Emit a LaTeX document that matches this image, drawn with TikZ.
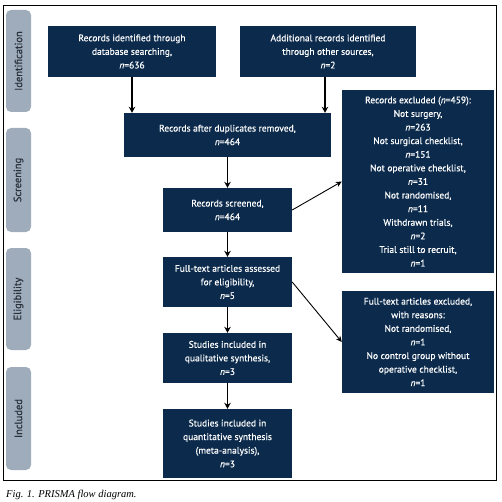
\documentclass[tikz,border=0pt]{standalone}
\usepackage{fontspec}
\setmainfont{PT Sans}
\newfontfamily\boxfont{PT Sans}[FakeBold=0.5]
\newfontfamily\capfont{Liberation Serif}
\usetikzlibrary{arrows.meta}
\definecolor{navy}{RGB}{12,42,76}
\definecolor{lblgray}{RGB}{158,172,187}
\definecolor{lbltext}{RGB}{40,48,58}
\tikzset{
  box/.style={fill=navy, text=white, align=center, inner sep=2pt,
    font=\boxfont\fontsize{9.5}{13.6}\selectfont, anchor=center},
  lbl/.style={fill=lblgray, rounded corners=5pt, minimum width=25pt,
    text=lbltext, font=\boxfont\fontsize{10.5}{12}\selectfont, anchor=center},
  arr/.style={line width=1.2pt, -{Stealth[length=6pt,width=6.5pt]}},
  darr/.style={line width=0.9pt, -{Stealth[length=6pt,width=5.5pt]}}
}
\begin{document}
\begin{tikzpicture}[x=1pt,y=-1pt]
\useasboundingbox (0,0) rectangle (502,502);
\draw[line width=1pt] (3,6) rectangle (496,480);
% side labels
\node[lbl, minimum height=102pt] (l1) at (18.5,61) {\rotatebox{90}{Identification}};
\node[lbl, minimum height=104pt] (l2) at (18.5,180) {\rotatebox{90}{Screening}};
\node[lbl, minimum height=102pt] (l3) at (18.5,299) {\rotatebox{90}{Eligibility}};
\node[lbl, minimum height=103pt] (l4) at (18.5,418.5) {\rotatebox{90}{Included}};
% boxes
\node[box, minimum width=168pt, minimum height=51pt] (b1) at (132,51.5)
  {Records identified through\\database searching,\\\textit{n}=636};
\node[box, minimum width=176pt, minimum height=51pt] (b2) at (328,51.5)
  {Additional records identified\\through other sources,\\\textit{n}=2};
\node[box, minimum width=207pt, minimum height=44pt] (b3) at (227.5,135)
  {Records after duplicates removed,\\\textit{n}=464};
\node[box, minimum width=129pt, minimum height=44pt] (b4) at (227.5,210)
  {Records screened,\\\textit{n}=464};
\node[box, minimum width=152pt, minimum height=183pt] (e1) at (418,181.5)
  {Records excluded (\textit{n}=459):\\Not surgery,\\\textit{n}=263\\Not surgical checklist,\\\textit{n}=151\\Not operative checklist,\\\textit{n}=31\\Not randomised,\\\textit{n}=11\\Withdrawn trials,\\\textit{n}=2\\Trial still to recruit,\\\textit{n}=1};
\node[box, minimum width=129pt, minimum height=50pt] (b5) at (227.5,282)
  {Full-text articles assessed\\for eligibility,\\\textit{n}=5};
\node[box, minimum width=152pt, minimum height=102pt] (e2) at (418,342)
  {Full-text articles excluded,\\with reasons:\\Not randomised,\\\textit{n}=1\\No control group without\\operative checklist,\\\textit{n}=1};
\node[box, minimum width=129pt, minimum height=50pt] (b6) at (227.5,358)
  {Studies included in\\qualitative synthesis,\\\textit{n}=3};
\node[box, minimum width=129pt, minimum height=69pt] (b7) at (227.5,443.5)
  {Studies included in\\quantitative synthesis\\(meta-analysis),\\\textit{n}=3};
% arrows
\draw[arr] (b1.south) -- (b1.south |- b3.north);
\draw[arr] ([xshift=-3pt]b2.south) -- ([xshift=-3pt]b2.south |- b3.north);
\draw[arr] (b3.south) -- (b4.north);
\draw[arr] (b4.south) -- (b5.north);
\draw[arr] (b5.south) -- (b6.north);
\draw[arr] (b6.south) -- (b7.north);
\draw[darr] (b4.east) -- (e1.west);
\draw[darr] (b5.east) -- (e2.west);
% caption
\node[anchor=base west, font=\capfont\itshape\fontsize{10.5}{12}\selectfont, inner sep=0pt] (cap) at (6,497) {Fig. 1. PRISMA flow diagram.};
\end{tikzpicture}
\end{document}
